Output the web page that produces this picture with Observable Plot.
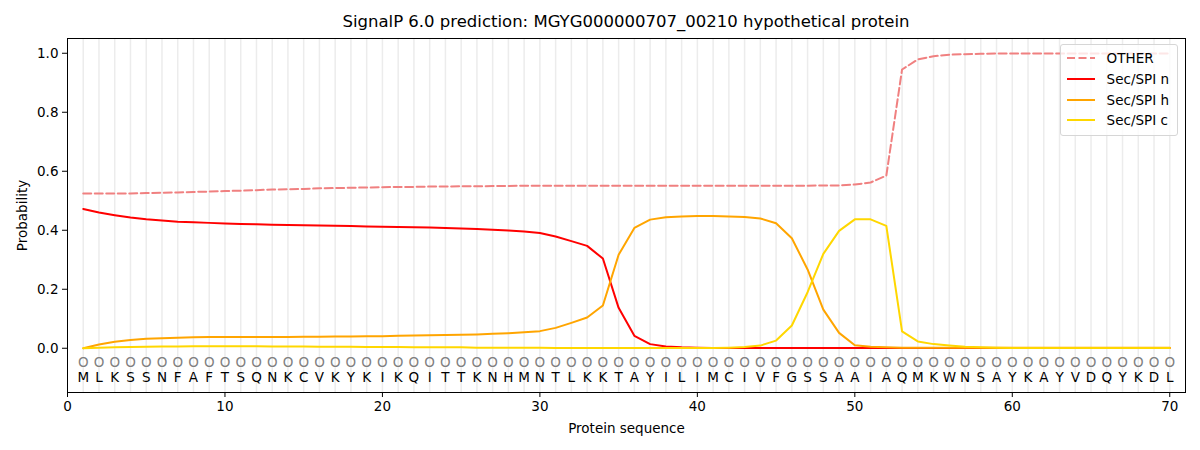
<!DOCTYPE html>
<html><head><meta charset="utf-8">
<script src="https://cdn.jsdelivr.net/npm/d3@7"></script>
<script src="https://cdn.jsdelivr.net/npm/@observablehq/plot@0.6"></script>
<style>
body{margin:0;background:#fff;font-family:"DejaVu Sans",sans-serif;}
#wrap{position:relative;width:1200px;height:450px;}
#title{position:absolute;left:67px;width:1118px;top:12px;text-align:center;font-size:16.5px;color:#000;}
#legend{position:absolute;right:22px;top:44px;border:1px solid #d6d6d6;border-radius:3px;background:rgba(255,255,255,0.8);padding:3px 8px 4px 6px;font-size:13.5px;}
#legend .row{display:flex;align-items:center;height:20.7px;}
#legend svg{margin-right:12px;}
</style></head>
<body><div id="wrap"><div id="title"></div><div id="legend"></div></div>
<script>
const title = "SignalP 6.0 prediction: MGYG000000707_00210 hypothetical protein";
const residues = "MLKSSNFAFTSQNKCVKYKIKQITTKNHMNTLKKTAYILIMCIVFGSSAAIAQMKWNSAYKAYVDQYKDL".split("");
const seriesNames = ["OTHER", "Sec/SPI n", "Sec/SPI h", "Sec/SPI c"];
const seriesColors = ["#f08080", "#ff0000", "#ffa500", "#ffd700"];
const other = [0.525,0.525,0.525,0.525,0.526,0.527,0.528,0.530,0.531,0.533,
 0.534,0.536,0.538,0.539,0.540,0.542,0.543,0.544,0.545,0.546,
 0.547,0.547,0.548,0.548,0.549,0.549,0.550,0.550,0.551,0.551,
 0.551,0.551,0.551,0.551,0.551,0.551,0.551,0.551,0.551,0.551,
 0.551,0.551,0.551,0.551,0.551,0.551,0.551,0.552,0.552,0.555,
 0.562,0.585,0.945,0.979,0.990,0.995,0.997,0.998,0.999,0.999,
 0.999,0.999,0.999,0.999,0.999,0.999,0.999,0.999,0.999,0.999];
const secN = [0.472,0.460,0.451,0.443,0.437,0.433,0.429,0.427,0.425,0.423,
 0.421,0.420,0.419,0.418,0.417,0.416,0.415,0.414,0.413,0.412,
 0.411,0.410,0.409,0.408,0.406,0.404,0.402,0.399,0.396,0.391,
 0.379,0.363,0.347,0.304,0.137,0.042,0.014,0.006,0.003,0.002,
 0.001,0.001,0.001,0.001,0.001,0.001,0.001,0.001,0.001,0.001,
 0.001,0.001,0.001,0.001,0.001,0.001,0.001,0.001,0.001,0.001,
 0.001,0.001,0.001,0.001,0.001,0.001,0.001,0.001,0.001,0.001];
const secH = [0.000,0.013,0.022,0.028,0.032,0.034,0.036,0.037,0.038,0.038,
 0.038,0.038,0.038,0.038,0.039,0.039,0.040,0.040,0.041,0.041,
 0.042,0.043,0.044,0.045,0.046,0.047,0.049,0.051,0.054,0.058,
 0.069,0.086,0.104,0.145,0.317,0.408,0.436,0.444,0.447,0.448,
 0.448,0.447,0.445,0.440,0.424,0.373,0.267,0.131,0.052,0.010,
 0.005,0.003,0.002,0.002,0.002,0.002,0.002,0.002,0.002,0.002,
 0.002,0.002,0.002,0.002,0.002,0.002,0.002,0.002,0.002,0.002];
const secC = [0.000,0.002,0.003,0.004,0.005,0.006,0.006,0.007,0.007,0.007,
 0.007,0.007,0.006,0.006,0.006,0.005,0.005,0.005,0.004,0.004,
 0.004,0.003,0.003,0.003,0.003,0.002,0.002,0.002,0.002,0.002,
 0.001,0.001,0.001,0.001,0.001,0.001,0.001,0.001,0.001,0.001,
 0.001,0.002,0.004,0.009,0.026,0.077,0.190,0.320,0.398,0.437,
 0.437,0.415,0.057,0.023,0.014,0.009,0.005,0.003,0.002,0.001,
 0.001,0.001,0.001,0.001,0.001,0.001,0.001,0.001,0.001,0.001];
const xTicks = [0,10,20,30,40,50,60,70];
const yTicks = [0,0.2,0.4,0.6,0.8,1.0];

const positions = residues.map((_, i) => i + 1);
const seqData = residues.map((r, i) => ({pos: i + 1, res: r}));
const allSeries = [other, secN, secH, secC];
const lineData = allSeries.map((vals, k) => vals.map((v, i) => ({pos: i + 1, p: v, s: seriesNames[k]})));

const font = "DejaVu Sans, sans-serif";
const plot = Plot.plot({
  width: 1200, height: 450,
  marginLeft: 67, marginRight: 15, marginTop: 38, marginBottom: 58,
  style: {fontFamily: font, fontSize: "13.5px", color: "#000", background: "#fff"},
  x: {domain: [0, 71], ticks: xTicks, tickSize: 5, label: "Protein sequence", labelAnchor: "center", labelArrow: "none", labelOffset: 40},
  y: {domain: [-0.15, 1.05], ticks: yTicks, tickSize: 5, tickFormat: d3.format(".1f"), label: "Probability", labelAnchor: "center", labelArrow: "none", labelOffset: 50},
  marks: [
    Plot.ruleX(positions, {stroke: "#ececec", strokeWidth: 1.5}),
    Plot.text(seqData, {x: "pos", y: () => -0.05, text: () => "O", fontSize: 13.5, fill: "#808080"}),
    Plot.text(seqData, {x: "pos", y: () => -0.1, text: "res", fontSize: 13.5, fill: "#000"}),
    Plot.line(lineData[0], {x: "pos", y: "p", stroke: seriesColors[0], strokeWidth: 2, strokeDasharray: "8,3.5"}),
    Plot.line(lineData[1], {x: "pos", y: "p", stroke: seriesColors[1], strokeWidth: 2}),
    Plot.line(lineData[2], {x: "pos", y: "p", stroke: seriesColors[2], strokeWidth: 2}),
    Plot.line(lineData[3], {x: "pos", y: "p", stroke: seriesColors[3], strokeWidth: 2}),
    Plot.frame({stroke: "#000", strokeWidth: 1})
  ]
});
document.getElementById("wrap").prepend(plot);
plot.style.position = "absolute"; plot.style.left = "0"; plot.style.top = "0";
document.getElementById("title").textContent = title;
const lg = document.getElementById("legend");
seriesNames.forEach((n, k) => {
  const row = document.createElement("div"); row.className = "row";
  const dash = k === 0 ? 'stroke-dasharray="8,3.5"' : '';
  row.innerHTML = `<svg width="28" height="10"><line x1="0" y1="5" x2="28" y2="5" stroke="${seriesColors[k]}" stroke-width="2" ${dash}/></svg><span>${n}</span>`;
  lg.appendChild(row);
});
</script></body></html>
